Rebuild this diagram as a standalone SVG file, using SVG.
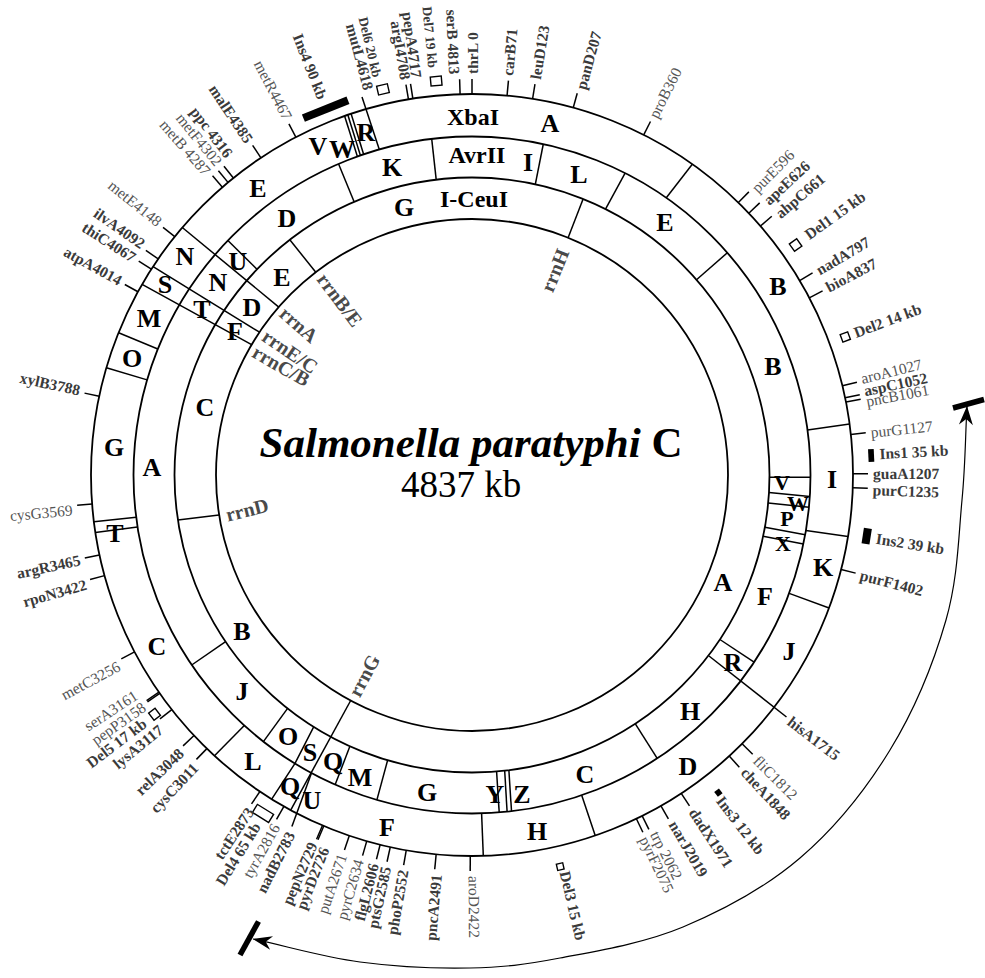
<svg xmlns="http://www.w3.org/2000/svg" width="985" height="978" viewBox="0 0 985 978">
<defs>
<style>
.c{fill:none;stroke:#000;stroke-width:1.8}
.ln{stroke:#000;stroke-width:1.5;fill:none}
.tk{stroke:#000;stroke-width:1.5}
.fr{font-family:"Liberation Serif","Times New Roman",serif;font-weight:bold;font-size:26px;text-anchor:middle;fill:#000}
.en{font-size:24px}
.sm{font-size:22px}
.lb{font-family:"Liberation Serif","Times New Roman",serif;font-size:15.5px;dominant-baseline:central;fill:#555}
.b{font-weight:bold;fill:#3a3a3a}
.e{text-anchor:end}
.s{font-size:13.5px}
.rr{font-family:"Liberation Serif","Times New Roman",serif;font-size:20px;font-weight:bold;fill:#4a4a4a;dominant-baseline:central}
.del{fill:#fff;stroke:#000;stroke-width:1.4}
.ins{fill:#000}
</style>
<marker id="ah" viewBox="-20 -8 22 16" refX="0" refY="0" markerWidth="22" markerHeight="16" markerUnits="userSpaceOnUse" orient="auto-start-reverse"><path d="M0,0 L-19,-7 L-13,0 L-19,7 Z" fill="#000"/></marker>
</defs>
<rect width="985" height="978" fill="#fff"/>

<g id="rings">
<circle class="c" cx="472" cy="475" r="381"/>
<circle class="c" cx="472" cy="475" r="338.5"/>
<circle class="c" cx="472" cy="475" r="297.5"/>
<circle class="c" cx="472" cy="475" r="256"/>
</g>

<g id="connectors">
<line class="ln" x1="692.3" y1="164.2" x2="666.3" y2="197.8"/>
<line class="ln" x1="807.5" y1="429.9" x2="849.6" y2="424.1"/>
<line class="ln" x1="805.9" y1="530.4" x2="848" y2="536.4"/>
<line class="ln" x1="789.2" y1="593.4" x2="829.1" y2="608"/>
<line class="ln" x1="581.7" y1="795.3" x2="595.2" y2="835.6"/>
<line class="ln" x1="481.6" y1="813.4" x2="483.3" y2="855.8"/>
<line class="ln" x1="244.3" y1="725.5" x2="214.5" y2="755.7"/>
<line class="ln" x1="137.5" y1="526.9" x2="95.4" y2="532.5"/>
<line class="ln" x1="136.2" y1="517.3" x2="93.9" y2="521.8"/>
<line class="ln" x1="147.1" y1="379.9" x2="106.4" y2="367.7"/>
<line class="ln" x1="157.8" y1="349" x2="118.6" y2="332.7"/>
<line class="ln" x1="344.6" y1="115.9" x2="357.4" y2="156.5"/>
<line class="ln" x1="347.8" y1="114.8" x2="360.4" y2="155.4"/>
<line class="ln" x1="351.1" y1="113.7" x2="363.6" y2="154.3"/>
<line class="ln" x1="379.3" y1="149.4" x2="362" y2="97"/>
<line class="ln" x1="311.5" y1="773" x2="291.9" y2="826.6"/>
<line class="ln" x1="338.6" y1="164" x2="354.1" y2="201.8"/>
<line class="ln" x1="431.7" y1="138.9" x2="436.2" y2="179.7"/>
<line class="ln" x1="543.3" y1="144" x2="535.3" y2="184.3"/>
<line class="ln" x1="625.1" y1="173.1" x2="605.5" y2="209.1"/>
<line class="ln" x1="727.3" y1="252.8" x2="696.5" y2="279.8"/>
<line class="ln" x1="769.5" y1="477.3" x2="810.5" y2="477.3"/>
<line class="ln" x1="769" y1="492.6" x2="809.8" y2="496.6"/>
<line class="ln" x1="768.2" y1="503.1" x2="809" y2="507.3"/>
<line class="ln" x1="764.9" y1="527.3" x2="805.2" y2="534.7"/>
<line class="ln" x1="763.1" y1="536.3" x2="803.4" y2="543.9"/>
<line class="ln" x1="719.9" y1="639.5" x2="754.1" y2="662.2"/>
<line class="ln" x1="635.2" y1="723.7" x2="657.2" y2="758.3"/>
<line class="ln" x1="496.6" y1="771.5" x2="499.2" y2="812.4"/>
<line class="ln" x1="504.7" y1="770.7" x2="507.1" y2="811.7"/>
<line class="ln" x1="508.9" y1="770.2" x2="511.5" y2="811.2"/>
<line class="ln" x1="387.6" y1="760.3" x2="376.9" y2="799.9"/>
<line class="ln" x1="349.9" y1="746.3" x2="335.2" y2="784.6"/>
<line class="ln" x1="287.6" y1="708.4" x2="263.4" y2="741.6"/>
<line class="ln" x1="225.6" y1="641.7" x2="191.7" y2="665"/>
<line class="ln" x1="227.9" y1="240.5" x2="257" y2="269.3"/>
<polyline class="ln" points="313.7,726.9 295,763.3 271.7,799.1"/>
<line class="ln" x1="709" y1="656" x2="786.5" y2="717"/>
<line class="ln" x1="182.3" y1="227.5" x2="278.8" y2="307.1"/>
<line class="ln" x1="153.1" y1="266.6" x2="259.5" y2="332.2"/>
<line class="ln" x1="142.1" y1="284.3" x2="251.6" y2="344.7"/>
<line class="ln" x1="350.7" y1="700.5" x2="290.7" y2="810.2"/>
<line class="ln" x1="289.8" y1="239.8" x2="315.8" y2="272.2"/>
<line class="ln" x1="583.1" y1="199" x2="568.1" y2="237.7"/>
<line class="ln" x1="177.9" y1="520.1" x2="219.1" y2="514.9"/>
</g>

<g id="ticks">
<line class="tk" x1="853" y1="475" x2="868" y2="475" transform="rotate(-90 472 475)"/>
<line class="tk" x1="853" y1="475" x2="868" y2="475" transform="rotate(-84.72 472 475)"/>
<line class="tk" x1="853" y1="475" x2="868" y2="475" transform="rotate(-80.85 472 475)"/>
<line class="tk" x1="853" y1="475" x2="868" y2="475" transform="rotate(-74.59 472 475)"/>
<line class="tk" x1="853" y1="475" x2="868" y2="475" transform="rotate(-63.21 472 475)"/>
<line class="tk" x1="853" y1="475" x2="868" y2="475" transform="rotate(-45.64 472 475)"/>
<line class="tk" x1="853" y1="475" x2="868" y2="475" transform="rotate(-43.41 472 475)"/>
<line class="tk" x1="853" y1="475" x2="868" y2="475" transform="rotate(-40.8 472 475)"/>
<line class="tk" x1="853" y1="475" x2="868" y2="475" transform="rotate(-30.68 472 475)"/>
<line class="tk" x1="853" y1="475" x2="868" y2="475" transform="rotate(-27.71 472 475)"/>
<line class="tk" x1="853" y1="475" x2="868" y2="475" transform="rotate(-13.56 472 475)"/>
<line class="tk" x1="853" y1="475" x2="868" y2="475" transform="rotate(-11.7 472 475)"/>
<line class="tk" x1="853" y1="475" x2="868" y2="475" transform="rotate(-11.03 472 475)"/>
<line class="tk" x1="853" y1="475" x2="868" y2="475" transform="rotate(-6.12 472 475)"/>
<line class="tk" x1="853" y1="475" x2="868" y2="475" transform="rotate(-0.17 472 475)"/>
<line class="tk" x1="853" y1="475" x2="868" y2="475" transform="rotate(1.92 472 475)"/>
<line class="tk" x1="853" y1="475" x2="868" y2="475" transform="rotate(14.35 472 475)"/>
<line class="tk" x1="853" y1="475" x2="868" y2="475" transform="rotate(44.86 472 475)"/>
<line class="tk" x1="853" y1="475" x2="868" y2="475" transform="rotate(47.54 472 475)"/>
<line class="tk" x1="853" y1="475" x2="868" y2="475" transform="rotate(56.69 472 475)"/>
<line class="tk" x1="853" y1="475" x2="868" y2="475" transform="rotate(60.27 472 475)"/>
<line class="tk" x1="853" y1="475" x2="868" y2="475" transform="rotate(63.47 472 475)"/>
<line class="tk" x1="853" y1="475" x2="868" y2="475" transform="rotate(64.44 472 475)"/>
<line class="tk" x1="853" y1="475" x2="868" y2="475" transform="rotate(90.26 472 475)"/>
<line class="tk" x1="853" y1="475" x2="868" y2="475" transform="rotate(95.4 472 475)"/>
<line class="tk" x1="853" y1="475" x2="868" y2="475" transform="rotate(99.94 472 475)"/>
<line class="tk" x1="853" y1="475" x2="868" y2="475" transform="rotate(102.39 472 475)"/>
<line class="tk" x1="853" y1="475" x2="868" y2="475" transform="rotate(103.96 472 475)"/>
<line class="tk" x1="853" y1="475" x2="868" y2="475" transform="rotate(106.04 472 475)"/>
<line class="tk" x1="853" y1="475" x2="868" y2="475" transform="rotate(108.79 472 475)"/>
<line class="tk" x1="853" y1="475" x2="868" y2="475" transform="rotate(112.89 472 475)"/>
<line class="tk" x1="853" y1="475" x2="868" y2="475" transform="rotate(113.11 472 475)"/>
<line class="tk" x1="853" y1="475" x2="868" y2="475" transform="rotate(119.58 472 475)"/>
<line class="tk" x1="853" y1="475" x2="868" y2="475" transform="rotate(123.83 472 475)"/>
<line class="tk" x1="853" y1="475" x2="868" y2="475" transform="rotate(134.1 472 475)"/>
<line class="tk" x1="853" y1="475" x2="868" y2="475" transform="rotate(136.85 472 475)"/>
<line class="tk" x1="853" y1="475" x2="868" y2="475" transform="rotate(141.99 472 475)"/>
<line class="tk" x1="853" y1="475" x2="868" y2="475" transform="rotate(145.04 472 475)"/>
<line class="tk" x1="853" y1="475" x2="868" y2="475" transform="rotate(145.26 472 475)"/>
<line class="tk" x1="853" y1="475" x2="868" y2="475" transform="rotate(152.33 472 475)"/>
<line class="tk" x1="853" y1="475" x2="868" y2="475" transform="rotate(164.69 472 475)"/>
<line class="tk" x1="853" y1="475" x2="868" y2="475" transform="rotate(167.89 472 475)"/>
<line class="tk" x1="853" y1="475" x2="868" y2="475" transform="rotate(175.63 472 475)"/>
<line class="tk" x1="853" y1="475" x2="868" y2="475" transform="rotate(191.93 472 475)"/>
<line class="tk" x1="853" y1="475" x2="868" y2="475" transform="rotate(208.75 472 475)"/>
<line class="tk" x1="853" y1="475" x2="868" y2="475" transform="rotate(212.69 472 475)"/>
<line class="tk" x1="853" y1="475" x2="868" y2="475" transform="rotate(214.55 472 475)"/>
<line class="tk" x1="853" y1="475" x2="868" y2="475" transform="rotate(218.72 472 475)"/>
<line class="tk" x1="853" y1="475" x2="868" y2="475" transform="rotate(229.07 472 475)"/>
<line class="tk" x1="853" y1="475" x2="868" y2="475" transform="rotate(230.18 472 475)"/>
<line class="tk" x1="853" y1="475" x2="868" y2="475" transform="rotate(231.22 472 475)"/>
<line class="tk" x1="853" y1="475" x2="868" y2="475" transform="rotate(236.36 472 475)"/>
<line class="tk" x1="853" y1="475" x2="868" y2="475" transform="rotate(242.46 472 475)"/>
<line class="tk" x1="853" y1="475" x2="868" y2="475" transform="rotate(260.4 472 475)"/>
<line class="tk" x1="853" y1="475" x2="868" y2="475" transform="rotate(261.07 472 475)"/>
<line class="tk" x1="853" y1="475" x2="868" y2="475" transform="rotate(268.21 472 475)"/>
</g>

<g id="indels">
<rect class="ins" x="862" y="451" width="8" height="48" transform="rotate(248.2 472 475)"/>
<rect class="ins" x="868.8" y="468.6" width="5.7" height="12.7" transform="rotate(-2.8 472 475)"/>
<rect class="ins" x="867.4" y="467.2" width="8" height="15.7" transform="rotate(8.8 472 475)"/>
<rect class="ins" x="871" y="472" width="6" height="6" transform="rotate(52.2 472 475)"/>
<rect class="del" x="864.5" y="470.5" width="9" height="9" transform="rotate(-35.4 472 475)"/>
<rect class="del" x="866" y="471" width="8" height="8" transform="rotate(-20.3 472 475)"/>
<rect class="del" x="870.2" y="471.8" width="6.5" height="6.5" transform="rotate(77.3 472 475)"/>
<rect class="del" x="865" y="465.5" width="9.5" height="19" transform="rotate(121.7 472 475)"/>
<rect class="del" x="865.5" y="470.5" width="8" height="9" transform="rotate(143 472 475)"/>
<rect class="del" x="863.3" y="469.5" width="9" height="11" transform="rotate(257 472 475)"/>
<rect class="del" x="863.1" y="469.5" width="9" height="11" transform="rotate(264.8 472 475)"/>
</g>

<g id="gene-labels-right">
<text class="lb b" x="873" y="475" transform="rotate(-90 472 475)">thrL 0</text>
<text class="lb b" x="873" y="475" transform="rotate(-84.9 472 475)">carB71</text>
<text class="lb b" x="873" y="475" transform="rotate(-80.9 472 475)">leuD123</text>
<text class="lb b" x="873" y="475" transform="rotate(-74.3 472 475)">panD207</text>
<text class="lb" x="873" y="475" transform="rotate(-63.2 472 475)">proB360</text>
<text class="lb" x="873" y="475" transform="rotate(-45.3 472 475)">purE596</text>
<text class="lb b" x="873" y="475" transform="rotate(-42.9 472 475)">apeE626</text>
<text class="lb b" x="873" y="475" transform="rotate(-40.4 472 475)">ahpC661</text>
<text class="lb b" x="883" y="475" transform="rotate(-35.6 472 475)">Del1 15 kb</text>
<text class="lb b" x="873" y="475" transform="rotate(-30.6 472 475)">nadA797</text>
<text class="lb b" x="873" y="475" transform="rotate(-27.8 472 475)">bioA837</text>
<text class="lb b" x="880" y="475" transform="rotate(-20.4 472 475)">Del2 14 kb</text>
<text class="lb" x="873" y="475" transform="rotate(-13.9 472 475)">aroA1027</text>
<text class="lb b" x="873" y="475" transform="rotate(-12.1 472 475)">aspC1052</text>
<text class="lb" x="873" y="475" transform="rotate(-10.6 472 475)">pncB1061</text>
<text class="lb" x="873" y="475" transform="rotate(-6.1 472 475)">purG1127</text>
<text class="lb b" x="880" y="475" transform="rotate(-3 472 475)">Ins1 35 kb</text>
<text class="lb b" x="873" y="475" transform="rotate(-0.2 472 475)">guaA1207</text>
<text class="lb b" x="873" y="475" transform="rotate(2.1 472 475)">purC1235</text>
<text class="lb b" x="881" y="475" transform="rotate(8.9 472 475)">Ins2 39 kb</text>
<text class="lb b" x="873" y="475" transform="rotate(14.4 472 475)">purF1402</text>
<text class="lb b" x="873" y="475" transform="rotate(37.6 472 475)">hisA1715</text>
<text class="lb" x="873" y="475" transform="rotate(44.9 472 475)">fliC1812</text>
<text class="lb b" x="873" y="475" transform="rotate(47.3 472 475)">cheA1848</text>
<text class="lb b" x="879" y="475" transform="rotate(52.5 472 475)">Ins3 12 kb</text>
<text class="lb b" x="873" y="475" transform="rotate(56.6 472 475)">dadX1971</text>
<text class="lb b" x="873" y="475" transform="rotate(59.9 472 475)">narJ2019</text>
<text class="lb" x="873" y="475" transform="rotate(62.9 472 475)">trp 2062</text>
<text class="lb" x="873" y="475" transform="rotate(64.6 472 475)">pyrF2075</text>
<text class="lb b" x="879" y="475" transform="rotate(76.8 472 475)">Del3 15 kb</text>
<text class="lb" x="873" y="475" transform="rotate(89.7 472 475)">aroD2422</text>
</g>

<g id="gene-labels-left">
<text class="lb b e" x="71" y="475" transform="rotate(-84.9 472 475)">pncA2491</text>
<text class="lb b e" x="71" y="475" transform="rotate(-80.1 472 475)">phoP2552</text>
<text class="lb b e" x="71" y="475" transform="rotate(-77.6 472 475)">ptsG2585</text>
<text class="lb b e" x="71" y="475" transform="rotate(-75.8 472 475)">flgL2606</text>
<text class="lb e" x="71" y="475" transform="rotate(-73.6 472 475)">pyrC2634</text>
<text class="lb e" x="71" y="475" transform="rotate(-71.1 472 475)">putA2671</text>
<text class="lb b e" x="71" y="475" transform="rotate(-68.4 472 475)">pyrD2726</text>
<text class="lb b e" x="71" y="475" transform="rotate(-66.6 472 475)">pepN2729</text>
<text class="lb b e" x="71" y="475" transform="rotate(-63.1 472 475)">nadB2783</text>
<text class="lb e" x="71" y="475" transform="rotate(-60.7 472 475)">tyrA2816</text>
<text class="lb b e" x="62" y="475" transform="rotate(-58.3 472 475)">Del4 65 kb</text>
<text class="lb b e" x="71" y="475" transform="rotate(-56.4 472 475)">tctE2873</text>
<text class="lb b e" x="71" y="475" transform="rotate(-46.4 472 475)">cysC3011</text>
<text class="lb b e" x="71" y="475" transform="rotate(-43.5 472 475)">relA3048</text>
<text class="lb b e" x="71" y="475" transform="rotate(-39.1 472 475)">lysA3117</text>
<text class="lb b e" x="62" y="475" transform="rotate(-37 472 475)">Del5 17 kb</text>
<text class="lb e" x="71" y="475" transform="rotate(-35.1 472 475)">pepP3158</text>
<text class="lb e" x="71" y="475" transform="rotate(-33.1 472 475)">serA3161</text>
<text class="lb e" x="71" y="475" transform="rotate(-28.3 472 475)">metC3256</text>
<text class="lb b e" x="71" y="475" transform="rotate(-15.8 472 475)">rpoN3422</text>
<text class="lb b e" x="71" y="475" transform="rotate(-12.2 472 475)">argR3465</text>
<text class="lb e" x="71" y="475" transform="rotate(-5 472 475)">cysG3569</text>
<text class="lb b e" x="71" y="475" transform="rotate(12.2 472 475)">xylB3788</text>
<text class="lb b e" x="71" y="475" transform="rotate(28.9 472 475)">atpA4014</text>
<text class="lb b e" x="71" y="475" transform="rotate(32.7 472 475)">thiC4067</text>
<text class="lb b e" x="71" y="475" transform="rotate(35 472 475)">ilvA4092</text>
<text class="lb e" x="71" y="475" transform="rotate(38.9 472 475)">metE4148</text>
<text class="lb e" x="71" y="475" transform="rotate(48.8 472 475)">metB 4287</text>
<text class="lb e" x="71" y="475" transform="rotate(50.9 472 475)">metF4302</text>
<text class="lb b e" x="71" y="475" transform="rotate(52.8 472 475)">ppc 4316</text>
<text class="lb b e" x="71" y="475" transform="rotate(56.3 472 475)">malE4385</text>
<text class="lb e" x="71" y="475" transform="rotate(62.7 472 475)">metR4467</text>
<text class="lb b e" x="67" y="475" transform="rotate(68.4 472 475)">Ins4 90 kb</text>
<text class="lb b e" x="73" y="475" transform="rotate(75 472 475)">mutL4618</text>
<text class="lb b e s" x="63" y="475" transform="rotate(76.6 472 475)">Del6 20 kb</text>
<text class="lb b e" x="71" y="475" transform="rotate(80.5 472 475)">argI4708</text>
<text class="lb b e" x="71" y="475" transform="rotate(82.1 472 475)">pepA4717</text>
<text class="lb b e s" x="63" y="475" transform="rotate(84.5 472 475)">Del7 19 kb</text>
<text class="lb b e" x="71" y="475" transform="rotate(87.5 472 475)">serB 4813</text>
</g>

<g id="rrn-labels">
<text class="rr" x="715" y="475" text-anchor="end" transform="rotate(-68 472 475)">rrnH</text>
<text class="rr" x="222" y="475" transform="rotate(53 472 475)">rrnB/E</text>
<text class="rr" x="221" y="475" transform="rotate(41 472 475)">rrnA</text>
<text class="rr" x="221" y="475" transform="rotate(34.2 472 475)">rrnE/C</text>
<text class="rr" x="221" y="475" transform="rotate(29.8 472 475)">rrnC/B</text>
<text class="rr" x="226" y="515" transform="rotate(-14 226 515)">rrnD</text>
<text class="rr" x="222" y="475" transform="rotate(-61.7 472 475)">rrnG</text>
</g>

<g id="xbaI-fragments">
<text class="fr en" x="473" y="125">XbaI</text>
<text class="fr" x="550" y="132">A</text>
<text class="fr" x="366" y="141">R</text>
<text class="fr" x="342" y="158">W</text>
<text class="fr" x="318" y="155">V</text>
<text class="fr" x="258" y="197">E</text>
<text class="fr" x="185" y="265">N</text>
<text class="fr" x="165" y="293">S</text>
<text class="fr" x="149" y="327">M</text>
<text class="fr" x="132" y="367">O</text>
<text class="fr" x="114" y="456">G</text>
<text class="fr" x="115" y="542">T</text>
<text class="fr" x="157" y="655">C</text>
<text class="fr" x="253" y="770">L</text>
<text class="fr" x="290" y="795">Q</text>
<text class="fr" x="312" y="809">U</text>
<text class="fr" x="387" y="836">F</text>
<text class="fr" x="537" y="840">H</text>
<text class="fr" x="688" y="775">D</text>
<text class="fr" x="789" y="660">J</text>
<text class="fr" x="823" y="576">K</text>
<text class="fr" x="832" y="488">I</text>
<text class="fr" x="778" y="295">B</text>
</g>

<g id="avrII-fragments">
<text class="fr" x="392" y="176">K</text>
<text class="fr en" x="477" y="163">AvrII</text>
<text class="fr" x="528" y="171">I</text>
<text class="fr" x="579" y="183">L</text>
<text class="fr" x="665" y="231">E</text>
<text class="fr" x="773" y="375">B</text>
<text class="fr sm" x="782" y="490">V</text>
<text class="fr sm" x="798" y="511">W</text>
<text class="fr sm" x="787" y="526">P</text>
<text class="fr sm" x="783" y="551">X</text>
<text class="fr" x="765" y="605">F</text>
<text class="fr" x="733" y="671">R</text>
<text class="fr" x="690" y="720">H</text>
<text class="fr" x="585" y="783">C</text>
<text class="fr" x="522" y="803">Z</text>
<text class="fr" x="495" y="803">Y</text>
<text class="fr" x="427" y="801">G</text>
<text class="fr" x="360" y="786">M</text>
<text class="fr" x="333" y="770">Q</text>
<text class="fr" x="310" y="761">S</text>
<text class="fr" x="288" y="745">O</text>
<text class="fr" x="242" y="700">J</text>
<text class="fr" x="152" y="476">A</text>
<text class="fr" x="202" y="318">T</text>
<text class="fr" x="218" y="291">N</text>
<text class="fr" x="238" y="270">U</text>
<text class="fr" x="287" y="227">D</text>
</g>

<g id="iceuI-fragments">
<text class="fr" x="404" y="216">G</text>
<text class="fr en" x="474" y="207">I-CeuI</text>
<text class="fr" x="282" y="286">E</text>
<text class="fr" x="252" y="316">D</text>
<text class="fr" x="235" y="340">F</text>
<text class="fr" x="205" y="416">C</text>
<text class="fr" x="242" y="640">B</text>
<text class="fr" x="723" y="591">A</text>
</g>

<g id="title">
<text x="471" y="457" font-family="Liberation Serif, Times New Roman, serif" font-size="43" font-weight="bold" text-anchor="middle"><tspan font-style="italic">Salmonella paratyphi</tspan> C</text>
<text x="461" y="497" font-family="Liberation Serif, Times New Roman, serif" font-size="37" text-anchor="middle">4837 kb</text>
</g>

<g id="region-arrow">
<path d="M967,406 C965.3,436 965.5,464 962,500 C958.5,536 958,578.3 946,620 C934,661.7 914.3,710.3 890,750 C865.7,789.7 834.5,828.5 800,858 C765.5,887.5 723,910.3 683,927 C643,943.7 595.5,951.2 560,958 C524.5,964.8 503.3,967.3 470,968 C436.7,968.7 396.2,966.8 360,962 C323.8,957.2 288.7,946.7 253,939" fill="none" stroke="#000" stroke-width="1.2" marker-start="url(#ah)" marker-end="url(#ah)"/>
<line x1="953" y1="408" x2="984" y2="399.5" stroke="#000" stroke-width="5.5"/>
<line x1="240" y1="955" x2="258.5" y2="921.5" stroke="#000" stroke-width="5.5"/>
</g>
</svg>
